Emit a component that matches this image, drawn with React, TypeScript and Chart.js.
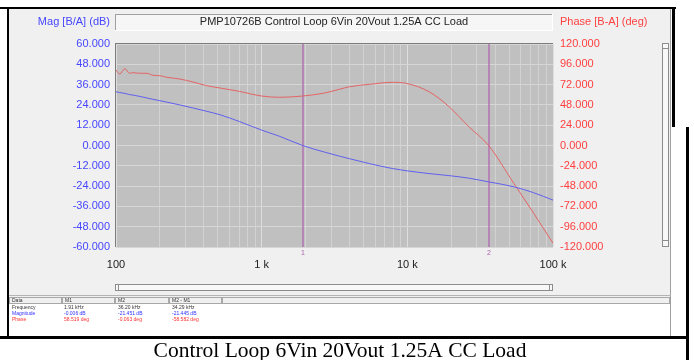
import React, { useEffect, useRef } from 'react';
import { Chart, registerables } from 'chart.js';

Chart.register(...registerables);

const W = 694;
const H = 360;
const SANS = '"Liberation Sans", Arial, sans-serif';
const SERIF = '"Liberation Serif", "Times New Roman", serif';

// ---- data ----
const freqHz = [100, 106, 115, 124, 131, 146, 163, 179, 200, 224, 274, 337, 420, 517, 706, 1000, 1330, 1910, 2700, 3420, 4010, 5490, 7890, 9810, 14100, 19300, 26400, 36200, 53800, 73600, 100000];
const magnitudeDb = [31.8, 31.3, 30.8, 30.1, 29.8, 29.0, 28.1, 27.3, 26.5, 25.6, 24.0, 22.2, 20.2, 18.2, 14.1, 9.1, 5.4, 0.0, -3.9, -6.3, -7.8, -10.7, -13.6, -14.9, -16.6, -17.8, -19.3, -21.5, -24.4, -27.9, -32.3];
const phaseDeg = [89.3, 84.5, 90.8, 85.4, 86.1, 85.4, 85.4, 83.0, 82.5, 80.6, 78.6, 75.1, 70.7, 68.0, 63.9, 58.5, 57.0, 58.5, 62.0, 66.5, 69.5, 72.3, 74.7, 73.5, 63.6, 46.0, 22.3, -0.1, -44.7, -80.0, -115.6];

const xGridValues = [100, 200, 300, 400, 500, 600, 700, 800, 900, 1000, 2000, 3000, 4000, 5000, 6000, 7000, 8000, 9000, 10000, 20000, 30000, 40000, 50000, 60000, 70000, 80000, 90000, 100000];
const xLabelValues = [100, 1000, 10000, 100000];
const xLabelTexts = ['100', '1 k', '10 k', '100 k'];

const magRange = [-60, 60];
const magStep = 12;
const phaseRange = [-120, 120];
const phaseStep = 24;

const markerFreqHz = [1910, 36200];
const markerNames = ['1', '2'];

const titleText = 'PMP10726B Control Loop 6Vin 20Vout 1.25A CC Load';
const magAxisTitle = 'Mag [B/A] (dB)';
const phaseAxisTitle = 'Phase [B-A] (deg)';
const captionText = 'Control Loop 6Vin 20Vout 1.25A CC Load';

const tableHeader = ['Data', 'M1', 'M2', 'M2 - M1'];
const tableRowNames = ['Frequency', 'Magnitude', 'Phase'];
const tableM1 = ['1.91 kHz', '-0.006 dB', '58.519 deg'];
const tableM2 = ['36.20 kHz', '-21.451 dB', '-0.063 deg'];
const tableDiff = ['34.29 kHz', '-21.445 dB', '-58.582 deg'];

// ---- style ----
const BLUE_TEXT = '#4646ff';
const RED_TEXT = '#ff4040';
const BLUE_LINE = '#6060ee';
const RED_LINE = '#e46464';
const PLOT_BG = '#c0c0c0';
const PANEL = '#f0f0f0';

const panelPlugin = {
  id: 'panelPlugin',
  beforeDraw(chart: any) {
    const ctx = chart.ctx;
    const { left, right, top, bottom } = chart.chartArea;
    ctx.save();
    ctx.fillStyle = '#ffffff';
    ctx.fillRect(0, 0, W, H);
    // gray screenshot panel
    ctx.fillStyle = PANEL;
    ctx.fillRect(9, 9, 662, 328);
    ctx.fillStyle = '#a0a0a0';
    ctx.fillRect(670, 9, 1, 328);
    // black frame
    ctx.fillStyle = '#000000';
    ctx.fillRect(0, 7, 676, 2);
    ctx.fillRect(7, 7, 2, 331);
    ctx.fillRect(672, 7, 3, 120);
    ctx.fillRect(686, 127, 3, 233);
    ctx.fillRect(0, 336, 689, 3);
    // title box
    ctx.fillStyle = '#f6f6f6';
    ctx.fillRect(115, 14, 438, 17);
    ctx.fillStyle = '#a0a0a0';
    ctx.fillRect(115, 14, 438, 1);
    ctx.fillRect(115, 14, 1, 17);
    ctx.fillStyle = '#ffffff';
    ctx.fillRect(115, 30, 438, 1);
    ctx.fillRect(552, 14, 1, 17);
    ctx.font = `11px ${SANS}`;
    ctx.textBaseline = 'middle';
    ctx.textAlign = 'center';
    ctx.fillStyle = '#222222';
    ctx.fillText(titleText, 334, 22);
    ctx.textAlign = 'right';
    ctx.fillStyle = BLUE_TEXT;
    ctx.fillText(magAxisTitle, 110, 22);
    ctx.textAlign = 'left';
    ctx.fillStyle = RED_TEXT;
    ctx.fillText(phaseAxisTitle, 560, 22);
    // plot background
    ctx.fillStyle = PLOT_BG;
    ctx.fillRect(left, top, right - left, bottom - top);
    // vertical scrollbar
    ctx.fillStyle = '#f8f8f8';
    ctx.fillRect(662, 43, 7, 204);
    ctx.strokeStyle = '#8c8c8c';
    ctx.lineWidth = 1;
    ctx.strokeRect(662.5, 43.5, 6, 203);
    ctx.beginPath();
    ctx.moveTo(663, 48.5); ctx.lineTo(668, 48.5);
    ctx.moveTo(663, 240.5); ctx.lineTo(668, 240.5);
    ctx.stroke();
    // horizontal scrollbar
    ctx.fillStyle = '#f8f8f8';
    ctx.fillRect(115, 284, 438, 7);
    ctx.strokeRect(115.5, 284.5, 437, 6);
    ctx.beginPath();
    ctx.moveTo(118.5, 285); ctx.lineTo(118.5, 290);
    ctx.moveTo(549.5, 285); ctx.lineTo(549.5, 290);
    ctx.stroke();
    // table
    ctx.fillStyle = '#b4b4b4';
    ctx.fillRect(9, 295, 662, 1);
    ctx.fillStyle = '#ffffff';
    ctx.fillRect(9, 304, 661, 32);
    const cols = [9, 62, 115, 169, 222, 670];
    ctx.strokeStyle = '#a8a8a8';
    for (let i = 0; i < cols.length - 1; i++) {
      ctx.strokeRect(cols[i] + 0.5, 297.5, cols[i + 1] - cols[i] - 1, 6);
    }
    ctx.font = `5px ${SANS}`;
    ctx.textAlign = 'left';
    ctx.textBaseline = 'middle';
    ctx.fillStyle = '#333333';
    tableHeader.forEach((t, i) => ctx.fillText(t, cols[i] + 3, 300.8));
    const rowColors = ['#333333', '#3030ff', '#ff3030'];
    const rowY = [308, 314, 320];
    tableRowNames.forEach((name, r) => {
      ctx.fillStyle = rowColors[r];
      ctx.fillText(name, cols[0] + 3, rowY[r]);
      ctx.fillText(tableM1[r], cols[1] + 2, rowY[r]);
      ctx.fillText(tableM2[r], cols[2] + 3, rowY[r]);
      ctx.fillText(tableDiff[r], cols[3] + 3, rowY[r]);
    });
    // caption
    ctx.font = `21.5px ${SERIF}`;
    ctx.textAlign = 'center';
    ctx.textBaseline = 'alphabetic';
    ctx.fillStyle = '#000000';
    ctx.fillText(captionText, 340, 357);
    ctx.restore();
  },
  beforeDatasetsDraw(chart: any) {
    const ctx = chart.ctx;
    const { top, bottom } = chart.chartArea;
    const xs = chart.scales.x;
    ctx.save();
    markerFreqHz.forEach((f, i) => {
      const px = Math.round(xs.getPixelForValue(f));
      ctx.fillStyle = 'rgba(176, 110, 176, 0.7)';
      ctx.fillRect(px - 1, top, 2, bottom - top);
      ctx.font = `7px ${SANS}`;
      ctx.textAlign = 'center';
      ctx.textBaseline = 'middle';
      ctx.fillStyle = '#b060b0';
      ctx.fillText(markerNames[i], px, bottom + 6);
    });
    ctx.restore();
  },
  afterDraw(chart: any) {
    const ctx = chart.ctx;
    const { left, right, top, bottom } = chart.chartArea;
    ctx.save();
    ctx.fillStyle = '#7c7c7c';
    ctx.fillRect(left - 1, top - 1, 1, bottom - top + 1);
    ctx.fillRect(left - 1, top - 1, right - left + 1, 1);
    ctx.restore();
  },
};

export default function App() {
  const canvasRef = useRef<HTMLCanvasElement | null>(null);

  useEffect(() => {
    const canvas = canvasRef.current;
    if (!canvas) return;
    const chart = new Chart(canvas, {
      type: 'line',
      data: {
        datasets: [
          {
            label: 'Magnitude',
            data: freqHz.map((f, i) => ({ x: f, y: magnitudeDb[i] })),
            yAxisID: 'yMag',
            borderColor: BLUE_LINE,
            borderWidth: 1,
            pointRadius: 0,
            cubicInterpolationMode: 'monotone',
          },
          {
            label: 'Phase',
            data: freqHz.map((f, i) => ({ x: f, y: phaseDeg[i] })),
            yAxisID: 'yPhase',
            borderColor: RED_LINE,
            borderWidth: 1,
            pointRadius: 0,
            cubicInterpolationMode: 'monotone',
          },
        ],
      },
      options: {
        responsive: false,
        animation: false,
        devicePixelRatio: 1,
        layout: { padding: { left: 0, right: 0, top: 44, bottom: 0 } },
        plugins: {
          legend: { display: false },
          tooltip: { enabled: false },
        },
        scales: {
          x: {
            type: 'logarithmic',
            position: 'bottom',
            min: 100,
            max: 100000,
            afterBuildTicks: (s: any) => {
              s.ticks = xGridValues.map((v) => ({ value: v }));
            },
            afterFit: (s: any) => {
              s.height = H - 247;
            },
            ticks: {
              autoSkip: false,
              maxRotation: 0,
              padding: 11,
              color: '#202020',
              font: { family: SANS, size: 11 },
              callback: (v: any) => {
                const idx = xLabelValues.indexOf(Number(v));
                return idx >= 0 ? xLabelTexts[idx] : '';
              },
            },
            grid: {
              drawTicks: false,
              lineWidth: 1,
              color: (c: any) => {
                const v = c.tick ? c.tick.value : 0;
                return xLabelValues.includes(v) ? '#dedede' : '#d2d2d2';
              },
            },
            border: { display: false },
          },
          yMag: {
            type: 'linear',
            position: 'left',
            min: magRange[0],
            max: magRange[1],
            afterFit: (s: any) => {
              s.width = 116;
            },
            ticks: {
              stepSize: magStep,
              padding: 6,
              color: BLUE_TEXT,
              font: { family: SANS, size: 11 },
              callback: (v: any) => Number(v).toFixed(3),
            },
            grid: { drawTicks: false, color: '#d6d6d6', lineWidth: 1 },
            border: { display: false },
          },
          yPhase: {
            type: 'linear',
            position: 'right',
            min: phaseRange[0],
            max: phaseRange[1],
            afterFit: (s: any) => {
              s.width = W - 553;
            },
            ticks: {
              stepSize: phaseStep,
              padding: 7,
              color: RED_TEXT,
              font: { family: SANS, size: 11 },
              callback: (v: any) => Number(v).toFixed(3),
            },
            grid: { display: false, drawTicks: false },
            border: { display: false },
          },
        },
      },
      plugins: [panelPlugin],
    } as any);
    return () => chart.destroy();
  }, []);

  return (
    <div style={{ position: 'absolute', left: 0, top: 0, width: W, height: H, background: '#fff' }}>
      <canvas ref={canvasRef} width={W} height={H} style={{ display: 'block', width: W, height: H }} />
    </div>
  );
}
